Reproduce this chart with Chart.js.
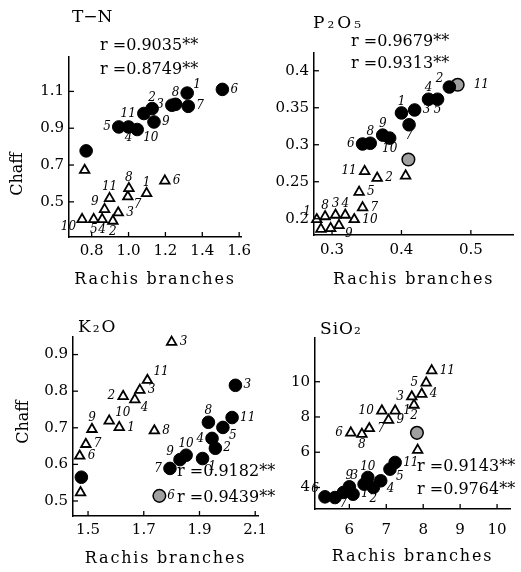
<!DOCTYPE html>
<html>
<head>
<meta charset="utf-8">
<script src="https://cdn.jsdelivr.net/npm/chart.js@4.4.0/dist/chart.umd.min.js"></script>
<style>
  html, body { margin: 0; background: #fff; }
  body { position: relative; width: 521px; height: 572px; overflow: hidden; }
  canvas { position: absolute; }
</style>
</head>
<body>
<canvas id="tn" width="260" height="290" style="left:0;top:0"></canvas>
<canvas id="p2o5" width="261" height="290" style="left:260px;top:0"></canvas>
<canvas id="k2o" width="300" height="282" style="left:0;top:290px"></canvas>
<canvas id="sio2" width="261" height="282" style="left:260px;top:290px"></canvas>
<script>
// ---- T-N ----
const tnXTicks = ['0.8', '1.0', '1.2', '1.4', '1.6'];
const tnYTicks = ['0.5', '0.7', '0.9', '1.1'];
const tnR = ['r =0.9035**', 'r =0.8749**'];
const tnCircleNo = ['1', '2', '3', '4', '5', '6', '7', '8', '9', '10', '11', ''];
const tnCircleX = [1.318, 1.128, 1.235, 1.0, 0.947, 1.509, 1.324, 1.255, 1.138, 1.047, 1.083, 0.77];
const tnCircleY = [1.091, 1.007, 1.025, 0.907, 0.907, 1.111, 1.019, 1.03, 0.934, 0.893, 0.98, 0.777];
const tnTriNo = ['1', '2', '3', '4', '5', '6', '7', '8', '9', '10', '11', ''];
const tnTriX = [1.098, 0.915, 0.944, 0.857, 0.811, 1.197, 0.996, 1.002, 0.87, 0.748, 0.897, 0.762];
const tnTriY = [0.546, 0.396, 0.441, 0.405, 0.405, 0.614, 0.528, 0.573, 0.459, 0.405, 0.519, 0.672];

// ---- P2O5 ----
const pXTicks = ['0.3', '0.4', '0.5'];
const pYTicks = ['0.2', '0.25', '0.3', '0.35', '0.4'];
const pR = ['r =0.9679**', 'r =0.9313**'];
const pCircleNo = ['1', '2', '3', '4', '5', '6', '7', '8', '9', '10'];
const pCircleX = [0.4, 0.469, 0.419, 0.439, 0.452, 0.344, 0.411, 0.355, 0.373, 0.383];
const pCircleY = [0.343, 0.378, 0.347, 0.3615, 0.3615, 0.301, 0.327, 0.302, 0.313, 0.309];
const pShadeNo = ['11', ''];
const pShadeX = [0.481, 0.41];
const pShadeY = [0.381, 0.28];
const pTriNo = ['1', '2', '3', '4', '5', '6', '7', '8', '9', '10', '11', '', ''];
const pTriX = [0.278, 0.365, 0.305, 0.319, 0.339, 0.284, 0.344, 0.29, 0.31, 0.332, 0.347, 0.406, 0.298];
const pTriY = [0.199, 0.255, 0.205, 0.205, 0.236, 0.186, 0.215, 0.203, 0.191, 0.199, 0.264, 0.258, 0.187];

// ---- K2O ----
const kXTicks = ['1.5', '1.7', '1.9', '2.1'];
const kYTicks = ['0.5', '0.6', '0.7', '0.8', '0.9'];
const kR = ['r =0.9182**', 'r =0.9439**'];
const kCircleNo = ['1', '2', '3', '4', '5', '7', '8', '9', '10', '11', ''];
const kCircleX = [1.911, 1.957, 2.029, 1.945, 1.984, 1.794, 1.932, 1.83, 1.852, 2.017, 1.476];
const kCircleY = [0.616, 0.644, 0.816, 0.671, 0.701, 0.589, 0.715, 0.613, 0.625, 0.728, 0.565];
const kShadeNo = ['6'];
const kShadeX = [1.756];
const kShadeY = [0.514];
const kTriNo = ['1', '2', '3', '4', '6', '7', '8', '9', '10', '11', '3', ''];
const kTriX = [1.612, 1.626, 1.686, 1.668, 1.47, 1.492, 1.738, 1.514, 1.576, 1.713, 1.8, 1.473];
const kTriY = [0.701, 0.786, 0.803, 0.777, 0.623, 0.655, 0.692, 0.696, 0.719, 0.83, 0.934, 0.523];

// ---- SiO2 ----
const sXTicks = ['6', '7', '8', '9', '10'];
const sYTicks = ['4', '6', '8', '10'];
const sR = ['r =0.9143**', 'r =0.9764**'];
const sCircleNo = ['1', '2', '3', '4', '5', '6', '7', '9', '10', '11', ''];
const sCircleX = [6.1, 6.65, 6.4, 6.85, 7.1, 5.34, 5.84, 6.0, 6.5, 7.24, 5.61];
const sCircleY = [3.62, 4.0, 4.19, 4.38, 5.04, 3.47, 3.72, 4.04, 4.57, 5.42, 3.43];
const sShadeNo = [''];
const sShadeX = [7.83];
const sShadeY = [7.1];
const sTriNo = ['1', '2', '3', '4', '5', '6', '7', '8', '9', '10', '11', ''];
const sTriX = [7.24, 7.75, 7.69, 7.96, 8.08, 6.04, 6.54, 6.34, 7.06, 6.88, 8.23, 7.85];
const sTriY = [8.35, 8.68, 9.15, 9.3, 9.94, 7.1, 7.35, 7.03, 7.82, 8.35, 10.63, 6.12];

// where each little number sits next to its mark
const tnCirclePos = ['tr', 't', 'l', 'b', 'l', 'r', 'r', 't', 'r', 'br', 'l', ''];
const tnTriPos = ['t', 'b', 'r', 'b', 'b', 'r', 'br', 't', 'tl', 'bl', 't', ''];
const pCirclePos = ['t', 'tl', 'r', 't', 'b', 'l', 'b', 't', 't', 'b'];
const pShadePos = ['rr', ''];
const pTriPos = ['tl', 'r', 't', 't', 'r', '', 'r', 't', 'br', 'r', 'l', '', ''];
const kCirclePos = ['br', 'r', 'r', 'l', 'br', 'l', 't', 'tl', 't', 'r', ''];
const kShadePos = ['r'];
const kTriPos = ['r', 'l', 'r', 'br', 'r', 'r', 'r', 't', 'tr', 'tr', 'r', ''];
const sCirclePos = ['r', 'b', 'tl', 'br', 'br', 'tl', 'b', 't', 't', 'r', ''];
const sShadePos = [''];
const sTriPos = ['r', 'b', 'l', 'r', 'l', 'l', 'r', 'b', 'r', 'l', 'r', ''];

const FONT = '"DejaVu Serif", serif';
const OFF = {
  r: [8, 0, 'left'], rr: [16, 0, 'left'], l: [-8, 0, 'right'],
  t: [0, -11, 'center'], b: [0, 11, 'center'],
  tr: [6, -8, 'left'], tl: [-6, -8, 'right'], br: [6, 8, 'left'], bl: [-6, 8, 'right']
};

const pts = (xs, ys) => xs.map((x, i) => ({ x: x, y: ys[i] }));

function circles(xs, ys, nos, pos) {
  return { data: pts(xs, ys), numbers: nos, numberPos: pos, pointStyle: 'circle', pointRadius: 6.3,
           backgroundColor: '#000', borderColor: '#000', borderWidth: 1, clip: false };
}
function shaded(xs, ys, nos, pos) {
  return { data: pts(xs, ys), numbers: nos, numberPos: pos, pointStyle: 'circle', pointRadius: 6.3,
           backgroundColor: '#a0a0a0', borderColor: '#000', borderWidth: 1.5, clip: false };
}
function triangles(xs, ys, nos, pos) {
  return { data: pts(xs, ys), numbers: nos, numberPos: pos, pointStyle: 'triangle', pointRadius: 5.5,
           backgroundColor: '#fff', borderColor: '#000', borderWidth: 1.8, clip: false };
}

// letter spacing for the axis titles only (tick labels are drawn after datasets)
const spacing = {
  id: 'spacing',
  beforeDraw(chart) { chart.ctx.letterSpacing = '1.8px'; },
  beforeDatasetsDraw(chart) { chart.ctx.letterSpacing = '0px'; }
};

// tick marks point into the plot
const innerTicks = {
  id: 'innerTicks',
  afterDraw(chart) {
    const { ctx, chartArea: a, scales } = chart;
    ctx.save();
    ctx.strokeStyle = '#000';
    ctx.lineWidth = 1.3;
    scales.x.ticks.forEach(t => {
      const px = scales.x.getPixelForValue(t.value);
      ctx.beginPath(); ctx.moveTo(px, a.bottom); ctx.lineTo(px, a.bottom - 5); ctx.stroke();
    });
    scales.y.ticks.forEach(t => {
      const py = scales.y.getPixelForValue(t.value);
      ctx.beginPath(); ctx.moveTo(a.left, py); ctx.lineTo(a.left + 5, py); ctx.stroke();
    });
    ctx.restore();
  }
};

const pointNumbers = {
  id: 'pointNumbers',
  afterDatasetsDraw(chart) {
    const ctx = chart.ctx;
    chart.data.datasets.forEach((ds, i) => {
      if (!ds.numbers) return;
      const meta = chart.getDatasetMeta(i);
      ctx.save();
      ctx.font = 'italic 12px ' + FONT;
      ctx.fillStyle = '#000';
      ctx.textBaseline = 'middle';
      meta.data.forEach((el, j) => {
        const n = ds.numbers[j];
        const o = OFF[ds.numberPos[j]];
        if (!n || !o) return;
        ctx.textAlign = o[2];
        ctx.fillText(n, el.x + o[0], el.y + o[1]);
      });
      ctx.restore();
    });
  }
};

const notes = {
  id: 'notes',
  afterDraw(chart, args, opts) {
    const ctx = chart.ctx;
    (opts.items || []).forEach(n => {
      ctx.save();
      ctx.font = n.font;
      ctx.letterSpacing = n.spacing || '0px';
      ctx.fillStyle = '#000';
      ctx.textAlign = n.align || 'left';
      ctx.textBaseline = 'middle';
      ctx.translate(n.x, n.y);
      if (n.rotate) ctx.rotate(n.rotate);
      ctx.fillText(n.text, 0, 0);
      ctx.restore();
    });
  }
};

function axis(ticks, min, max, pad, extra) {
  return Object.assign({
    type: 'linear', min: min, max: max,
    grid: { display: false, drawTicks: false },
    border: { color: '#000', width: 1.5 },
    ticks: { color: '#000', font: { family: FONT, size: 15 }, padding: pad, autoSkip: false,
             maxRotation: 0, z: 1, callback: (v, i) => ticks[i] },
    afterBuildTicks: s => { s.ticks = ticks.map(t => ({ value: parseFloat(t) })); }
  }, extra);
}

function makePanel(id, g, datasets, xTicks, yTicks, xr, yr, items) {
  const hx = g.titleY + 9.6 - g.B;
  return new Chart(document.getElementById(id), {
    type: 'scatter',
    data: { datasets: datasets },
    options: {
      responsive: false,
      animation: false,
      layout: { padding: { left: 0, top: g.T, right: g.w - g.R, bottom: g.h - g.B - hx } },
      plugins: { legend: { display: false }, tooltip: { enabled: false }, notes: { items: items } },
      scales: {
        x: axis(xTicks, xr[0], xr[1], g.xPad, {
          afterFit: s => { s.height = hx; },
          title: { display: true, text: 'Rachis branches', color: '#000',
                   font: { family: FONT, size: 16 }, padding: 0 }
        }),
        y: axis(yTicks, yr[0], yr[1], 5, { afterFit: s => { s.width = g.L; } })
      }
    },
    plugins: [spacing, innerTicks, pointNumbers, notes]
  });
}

const RFONT = '16px ' + FONT;
const TFONT = '17px ' + FONT;
const chaff = (x, y) => ({ text: 'Chaff', x: x, y: y, font: '16px ' + FONT, align: 'center', rotate: -Math.PI / 2 });

makePanel('tn', { w: 260, h: 290, L: 69, T: 57, R: 241, B: 237, titleY: 280, xPad: 5 },
  [triangles(tnTriX, tnTriY, tnTriNo, tnTriPos), circles(tnCircleX, tnCircleY, tnCircleNo, tnCirclePos)],
  tnXTicks, tnYTicks, [0.677, 1.61], [0.309, 1.287],
  [{ text: 'T−N', x: 72, y: 18, font: TFONT },
   { text: tnR[0], x: 100, y: 46, font: RFONT },
   { text: tnR[1], x: 100, y: 70, font: RFONT },
   chaff(18, 174)]);

makePanel('p2o5', { w: 261, h: 290, L: 54, T: 53, R: 260, B: 235, titleY: 280, xPad: 6 },
  [triangles(pTriX, pTriY, pTriNo, pTriPos), circles(pCircleX, pCircleY, pCircleNo, pCirclePos),
   shaded(pShadeX, pShadeY, pShadeNo, pShadePos)],
  pXTicks, pYTicks, [0.274, 0.561], [0.178, 0.424],
  [{ text: 'P₂O₅', x: 53, y: 24, font: TFONT, spacing: '3px' },
   { text: pR[0], x: 91, y: 42, font: RFONT },
   { text: pR[1], x: 91, y: 64, font: RFONT }]);

makePanel('k2o', { w: 300, h: 282, L: 73, T: 47, R: 258, B: 226, titleY: 269, xPad: 5 },
  [triangles(kTriX, kTriY, kTriNo, kTriPos), circles(kCircleX, kCircleY, kCircleNo, kCirclePos),
   shaded(kShadeX, kShadeY, kShadeNo, kShadePos)],
  kXTicks, kYTicks, [1.446, 2.11], [0.459, 0.948],
  [{ text: 'K₂O', x: 78, y: 38, font: TFONT, spacing: '2px' },
   { text: kR[0], x: 177, y: 182, font: RFONT },
   { text: kR[1], x: 177, y: 208, font: RFONT },
   chaff(24, 132)]);

makePanel('sio2', { w: 261, h: 282, L: 55, T: 48, R: 250, B: 219, titleY: 267, xPad: 12 },
  [triangles(sTriX, sTriY, sTriNo, sTriPos), circles(sCircleX, sCircleY, sCircleNo, sCirclePos),
   shaded(sShadeX, sShadeY, sShadeNo, sShadePos)],
  sXTicks, sYTicks, [5.07, 10.35], [2.78, 12.48],
  [{ text: 'SiO₂', x: 60, y: 40, font: TFONT, spacing: '1px' },
   { text: sR[0], x: 157, y: 177, font: RFONT },
   { text: sR[1], x: 157, y: 200, font: RFONT }]);
</script>
</body>
</html>
